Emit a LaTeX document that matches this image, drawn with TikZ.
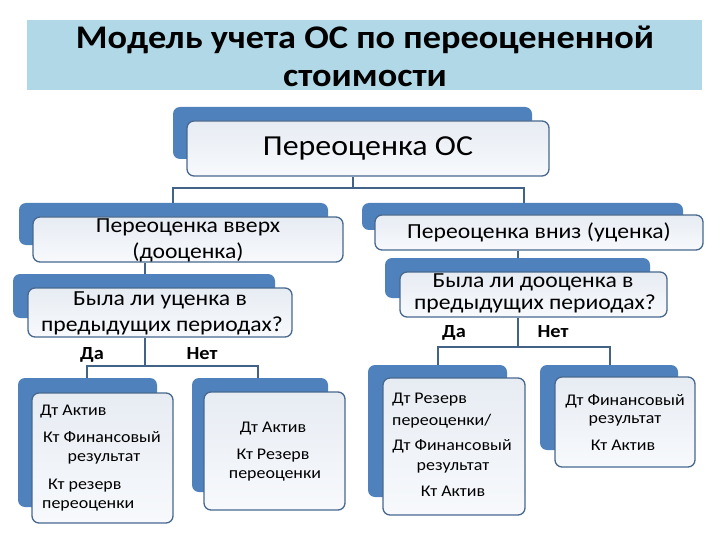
\documentclass[tikz,border=0pt]{standalone}
\usepackage{fontspec}
\setmainfont{Carlito}[FakeStretch=1.1]
\definecolor{backblue}{RGB}{79,129,189}
\definecolor{edgeblue}{RGB}{72,104,142}
\definecolor{linecol}{RGB}{66,98,136}
\definecolor{titleband}{RGB}{176,216,230}
\definecolor{fronttop}{RGB}{231,236,243}
\definecolor{frontbot}{RGB}{247,249,252}
\begin{document}
\begin{tikzpicture}[x=1pt,y=-1pt,
  backbox/.style={fill=backblue, draw=none, rounded corners=7pt, inner sep=0pt},
  frontbox/.style={draw=edgeblue, line width=1.3pt, rounded corners=7pt,
     top color=fronttop, bottom color=frontbot, inner sep=0pt, align=center},
  conn/.style={draw=linecol, line width=1.6pt},
  titletxt/.style={font=\fontsize{33}{36}\bfseries\selectfont},
  midtxt/.style={font=\fontsize{21.5}{24}\selectfont, inner sep=0pt},
  smalltxt/.style={font=\fontsize{16.3}{19}\selectfont, inner sep=0pt},
  yn/.style={font=\fontsize{18.5}{20}\bfseries\selectfont, inner sep=0pt}]
\useasboundingbox (0,0) rectangle (720,540);
% title
\node[fill=titleband, minimum width=675pt, minimum height=70pt, inner sep=0pt] (band) at (364.5,55) {};
\node[titletxt, anchor=mid] (title1) at (365,46) {Модель учета ОС по переоцененной};
\node[titletxt, anchor=mid] (title2) at (365,84) {стоимости};
% top box
\node[backbox, minimum width=359pt, minimum height=52pt] (topb) at (352.5,133) {};
\node[frontbox, minimum width=362pt, minimum height=55pt,
      font=\fontsize{29}{32}\selectfont] (top) at (368,148.5) {Переоценка ОС};
% level 2 left
\node[backbox, minimum width=309pt, minimum height=42pt] (upb) at (173.5,224) {};
\node[frontbox, minimum width=310pt, minimum height=45pt] (up) at (188,239.5) {};
\node[midtxt, anchor=mid] (up1) at (188,230) {Переоценка вверх};
\node[midtxt, anchor=mid] (up2) at (188,256) {(дооценка)};
% level 3 left
\node[backbox, minimum width=262pt, minimum height=44pt] (qlb) at (144,296) {};
\node[frontbox, minimum width=264pt, minimum height=49pt] (ql) at (160,312.5) {};
\node[midtxt, anchor=mid] (ql1) at (160,303) {Была ли уценка в};
\node[midtxt, anchor=mid] (ql2) at (162,329) {предыдущих периодах?};
\node[yn, anchor=mid] (da1) at (92,357) {Да};
\node[yn, anchor=mid] (net1) at (202,357) {Нет};
% level 4 left box 1
\node[backbox, minimum width=139pt, minimum height=129pt] (a1b) at (87.5,442.5) {};
\node[frontbox, minimum width=141pt, minimum height=130pt] (a1) at (102.5,458) {};
\node[smalltxt, anchor=mid west] (a1t1) at (40,413) {Дт Актив};
\node[smalltxt, anchor=mid] (a1t2) at (102,440) {Кт Финансовый};
\node[smalltxt, anchor=mid] (a1t3) at (104,459) {результат};
\node[smalltxt, anchor=mid west] (a1t4) at (48,487) {Кт резерв};
\node[smalltxt, anchor=mid west] (a1t5) at (42,506) {переоценки};
% level 4 left box 2
\node[backbox, minimum width=136pt, minimum height=114pt] (a2b) at (260,435) {};
\node[frontbox, minimum width=141pt, minimum height=118pt] (a2) at (274.5,451) {};
\node[smalltxt, anchor=mid] (a2t1) at (273,430) {Дт Актив};
\node[smalltxt, anchor=mid] (a2t2) at (273,457) {Кт Резерв};
\node[smalltxt, anchor=mid] (a2t3) at (275,476) {переоценки};
% level 2 right
\node[backbox, minimum width=321pt, minimum height=27pt] (downb) at (522.5,216.5) {};
\node[frontbox, minimum width=328pt, minimum height=35pt,
      font=\fontsize{21.5}{24}\selectfont] (down) at (539,232.5) {Переоценка вниз (уценка)};
% level 3 right
\node[backbox, minimum width=265pt, minimum height=40pt] (qrb) at (517.5,278) {};
\node[frontbox, minimum width=267pt, minimum height=45pt] (qr) at (533.5,294.5) {};
\node[midtxt, anchor=mid] (qr1) at (533,285) {Была ли дооценка в};
\node[midtxt, anchor=mid] (qr2) at (535,307.5) {предыдущих периодах?};
\node[yn, anchor=mid] (da2) at (454,335) {Да};
\node[yn, anchor=mid] (net2) at (553,335) {Нет};
% level 4 right box 1
\node[backbox, minimum width=139pt, minimum height=132pt] (b1b) at (437.5,431) {};
\node[frontbox, minimum width=142pt, minimum height=137pt] (b1) at (454,446.5) {};
\node[smalltxt, anchor=mid west] (b1t1) at (392,401) {Дт Резерв};
\node[smalltxt, anchor=mid west] (b1t2) at (392,423) {переоценки/};
\node[smalltxt, anchor=mid] (b1t3) at (452,448) {Дт Финансовый};
\node[smalltxt, anchor=mid] (b1t4) at (453,468) {результат};
\node[smalltxt, anchor=mid] (b1t5) at (453,494) {Кт Актив};
% level 4 right box 2
\node[backbox, minimum width=138pt, minimum height=85pt] (b2b) at (609,407.5) {};
\node[frontbox, minimum width=140pt, minimum height=90pt] (b2) at (625,422) {};
\node[smalltxt, anchor=mid] (b2t1) at (625,403) {Дт Финансовый};
\node[smalltxt, anchor=mid] (b2t2) at (625,421) {результат};
\node[smalltxt, anchor=mid] (b2t3) at (623,448) {Кт Актив};
% connectors
\coordinate (j1) at (353,188);
\coordinate (j1l) at (173,188);
\coordinate (j1r) at (524,188);
\draw[conn] (j1 |- top.south) -- (j1);
\draw[conn] (j1l |- upb.north) -- (j1l) -- (j1r) -- (j1r |- downb.north);
\coordinate (j2) at (145,0);
\draw[conn] (j2 |- up.south) -- (j2 |- qlb.north);
\coordinate (j3) at (145,366);
\coordinate (j3l) at (87,366);
\coordinate (j3r) at (258,366);
\draw[conn] (j3 |- ql.south) -- (j3);
\draw[conn] (j3l |- a1b.north) -- (j3l) -- (j3r) -- (j3r |- a2b.north);
\coordinate (j4) at (518,0);
\draw[conn] (j4 |- down.south) -- (j4 |- qrb.north);
\coordinate (j5) at (518,347);
\coordinate (j5l) at (438,347);
\coordinate (j5r) at (610,347);
\draw[conn] (j5 |- qr.south) -- (j5);
\draw[conn] (j5l |- b1b.north) -- (j5l) -- (j5r) -- (j5r |- b2b.north);
\end{tikzpicture}
\end{document}
